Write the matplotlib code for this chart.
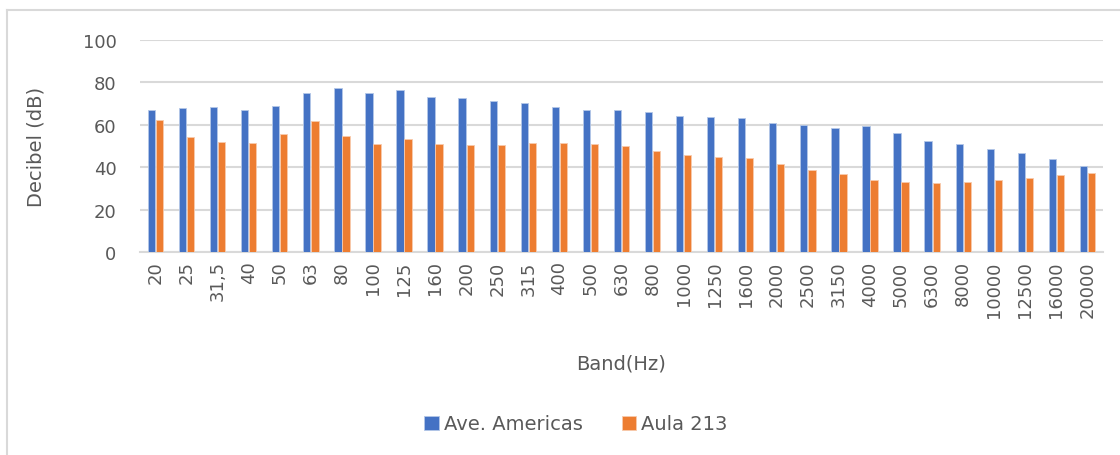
import numpy as np
from matplotlib import pyplot as plt
from matplotlib.lines import Line2D

bands = ['20', '25', '31,5', '40', '50', '63', '80', '100', '125', '160', '200', '250', '315',
         '400', '500', '630', '800', '1000', '1250', '1600', '2000', '2500', '3150', '4000',
         '5000', '6300', '8000', '10000', '12500', '16000', '20000']
ave_americas = [66.8, 67.9, 68.1, 67.0, 68.9, 74.7, 77.3, 74.7, 76.3, 73.1, 72.5, 71.2, 70.0,
                68.4, 66.7, 67.0, 65.9, 64.3, 63.8, 63.0, 61.0, 59.9, 58.6, 59.4, 56.2, 52.4,
                51.0, 48.7, 46.4, 43.6, 40.4]
aula_213 = [62.4, 54.0, 51.8, 51.3, 55.8, 61.9, 54.5, 51.0, 53.4, 50.7, 50.6, 50.2, 51.3,
            51.3, 50.7, 49.8, 47.6, 45.7, 44.9, 44.2, 41.4, 38.5, 36.7, 34.0, 32.9, 32.5,
            33.0, 33.8, 34.8, 36.2, 37.3]

BLUE = '#4472C4'
ORANGE = '#ED7D31'
GRID = '#D9D9D9'
TXT = '#595959'
DPI = 100

plt.rcParams['font.family'] = ['DejaVu Sans']

fig = plt.figure(figsize=(11.2, 4.56), dpi=DPI)
ax = fig.add_axes([0.125, 0.4452, 0.8598, 0.4655])

x = np.arange(len(bands))
w = 0.235
ax.bar(x - 0.13, ave_americas, w, color=BLUE, edgecolor='#b4c7e7', linewidth=0.6, label='Ave. Americas', zorder=3)
ax.bar(x + 0.13, aula_213, w, color=ORANGE, edgecolor='#f8cbad', linewidth=0.6, label='Aula 213', zorder=3)

ax.set_xlim(-0.5, len(bands) - 0.5)
ax.set_ylim(0, 100)
ax.set_yticks(range(0, 101, 20))
ax.set_xticks(x)
ax.set_xticklabels(bands, rotation=90)
ax.grid(axis='y', color=GRID, linewidth=1.5, zorder=0)
for s in ['top', 'right', 'left']:
    ax.spines[s].set_visible(False)
ax.spines['bottom'].set_color(GRID)
ax.spines['bottom'].set_linewidth(1.5)
ax.tick_params(axis='both', length=0, colors=TXT, labelsize=13)
ax.tick_params(axis='y', pad=17)
ax.tick_params(axis='x', pad=6)

ax.set_ylabel('Decibel (dB)', fontsize=14, color=TXT)
ax.yaxis.set_label_coords(-0.098, 0.5)
ax.set_xlabel('Band(Hz)', fontsize=14, color=TXT)
ax.xaxis.set_label_coords((621 - 140) / 963, -0.48)

fig.legend(loc='center', bbox_to_anchor=(576 / 1120, 1 - 425 / 456), ncol=2, frameon=False,
           fontsize=14, labelcolor=TXT, handlelength=0.75, handleheight=0.75,
           handletextpad=0.25, columnspacing=2.0)

# chart border (only left and top edges visible in the crop)
fig.add_artist(Line2D([7 / 1120, 7 / 1120], [0, 1 - 11 / 456], color=GRID, linewidth=1.5))
fig.add_artist(Line2D([7 / 1120, 1], [1 - 11 / 456, 1 - 11 / 456], color=GRID, linewidth=1.5))

plt.savefig('out.png', dpi=DPI)
